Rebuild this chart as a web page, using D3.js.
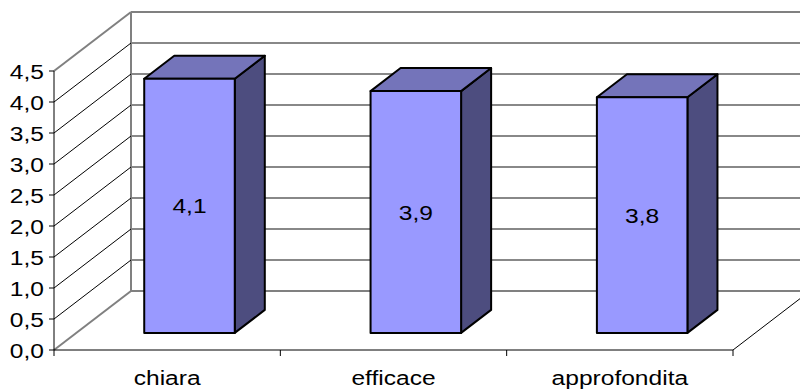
<!DOCTYPE html>
<html><head><meta charset="utf-8">
<script src="https://cdn.jsdelivr.net/npm/d3@7"></script>
<style>body{margin:0;background:#fff}svg{display:block}</style>
</head><body>
<svg id="c" width="800" height="390"></svg>
<script>
const categories = ["chiara", "efficace", "approfondita"];
const values = [4.1, 3.9, 3.8];
const valueLabels = ["4,1", "3,9", "3,8"];
const yTicks = [0, 0.5, 1, 1.5, 2, 2.5, 3, 3.5, 4, 4.5];

const svg = d3.select("#c");
const font = "Liberation Sans, Arial, sans-serif";
const FS = 21, SX = 1.17;
const y = d3.scaleLinear().domain([0, 4.5]).range([350, 71]);
const x = d3.scaleBand().domain(categories).range([54, 733]);
const DX = 77, DY = -59;
const P = (px, v, d) => [px + d * DX, y(v) + d * DY];
const line = d3.line();
const fmt = v => d3.format(".1f")(v).replace(".", ",");
function label(tx, ty, txt, anchor, dy) {
  svg.append("text").attr("transform", `translate(${tx},${ty}) scale(${SX},1)`)
    .attr("dy", dy).attr("text-anchor", anchor)
    .attr("font-family", font).attr("font-size", FS).attr("fill", "#000").text(txt);
}

// back wall gridlines
yTicks.forEach(t => {
  const a = P(54, t, 1), b = [810, a[1]];
  const edge = (t === 0 || t === 4.5);
  svg.append("path").attr("d", line([a, b]))
    .attr("stroke", edge ? "#808080" : "#606060")
    .attr("stroke-width", edge ? 2 : 1.5).attr("fill", "none");
});
// back wall left edge
svg.append("path").attr("d", line([P(54, 0, 1), P(54, 4.5, 1)]))
  .attr("stroke", "#808080").attr("stroke-width", 2).attr("fill", "none");
// left wall diagonals
yTicks.forEach(t => {
  const edge = (t === 0 || t === 4.5);
  svg.append("path").attr("d", line([P(54, t, 0), P(54, t, 1)]))
    .attr("stroke", edge ? "#808080" : "#000")
    .attr("stroke-width", edge ? 2 : 1).attr("fill", "none");
});
// floor right edge
svg.append("path").attr("d", line([P(733, 0, 0), P(733, 0, 1)]))
  .attr("stroke", "#000").attr("stroke-width", 1).attr("fill", "none");

// axes
svg.append("path").attr("d", line([[54, y(4.5)], [54, y(0)], [733, y(0)]]))
  .attr("stroke", "#000").attr("stroke-width", 1).attr("fill", "none");
yTicks.forEach(t => {
  svg.append("line").attr("x1", 49).attr("x2", 54).attr("y1", y(t)).attr("y2", y(t))
    .attr("stroke", "#000");
  label(44, y(t), fmt(t), "end", "0.36em");
});
const bounds = categories.map(c => x(c)).concat([x.range()[1]]);
bounds.forEach(bx => {
  svg.append("line").attr("x1", bx).attr("x2", bx).attr("y1", 350).attr("y2", 356)
    .attr("stroke", "#000");
});
categories.forEach(c => {
  label(x(c) + x.bandwidth() / 2, 385, c, "middle", 0);
});

// bars
const d0 = 0.29, d1 = 0.68, bw = 0.40;
categories.forEach((c, i) => {
  const cx = x(c) + x.bandwidth() / 2;
  const hw = x.bandwidth() * bw / 2;
  const x0 = cx - hw, x1 = cx + hw, v = values[i];
  const front = [P(x0, 0, d0), P(x1, 0, d0), P(x1, v, d0), P(x0, v, d0)];
  const top = [P(x0, v, d0), P(x1, v, d0), P(x1, v, d1), P(x0, v, d1)];
  const side = [P(x1, 0, d0), P(x1, 0, d1), P(x1, v, d1), P(x1, v, d0)];
  const g = svg.append("g").attr("stroke", "#000").attr("stroke-width", 2)
    .attr("stroke-linejoin", "round");
  g.append("path").attr("d", line(side) + "Z").attr("fill", "#4d4d7f");
  g.append("path").attr("d", line(top) + "Z").attr("fill", "#7474ba");
  g.append("path").attr("d", line(front) + "Z").attr("fill", "#9999ff");
  label(cx + d0 * DX, (y(v) + y(0)) / 2 + d0 * DY, valueLabels[i], "middle", "0.36em");
});
</script>
</body></html>
